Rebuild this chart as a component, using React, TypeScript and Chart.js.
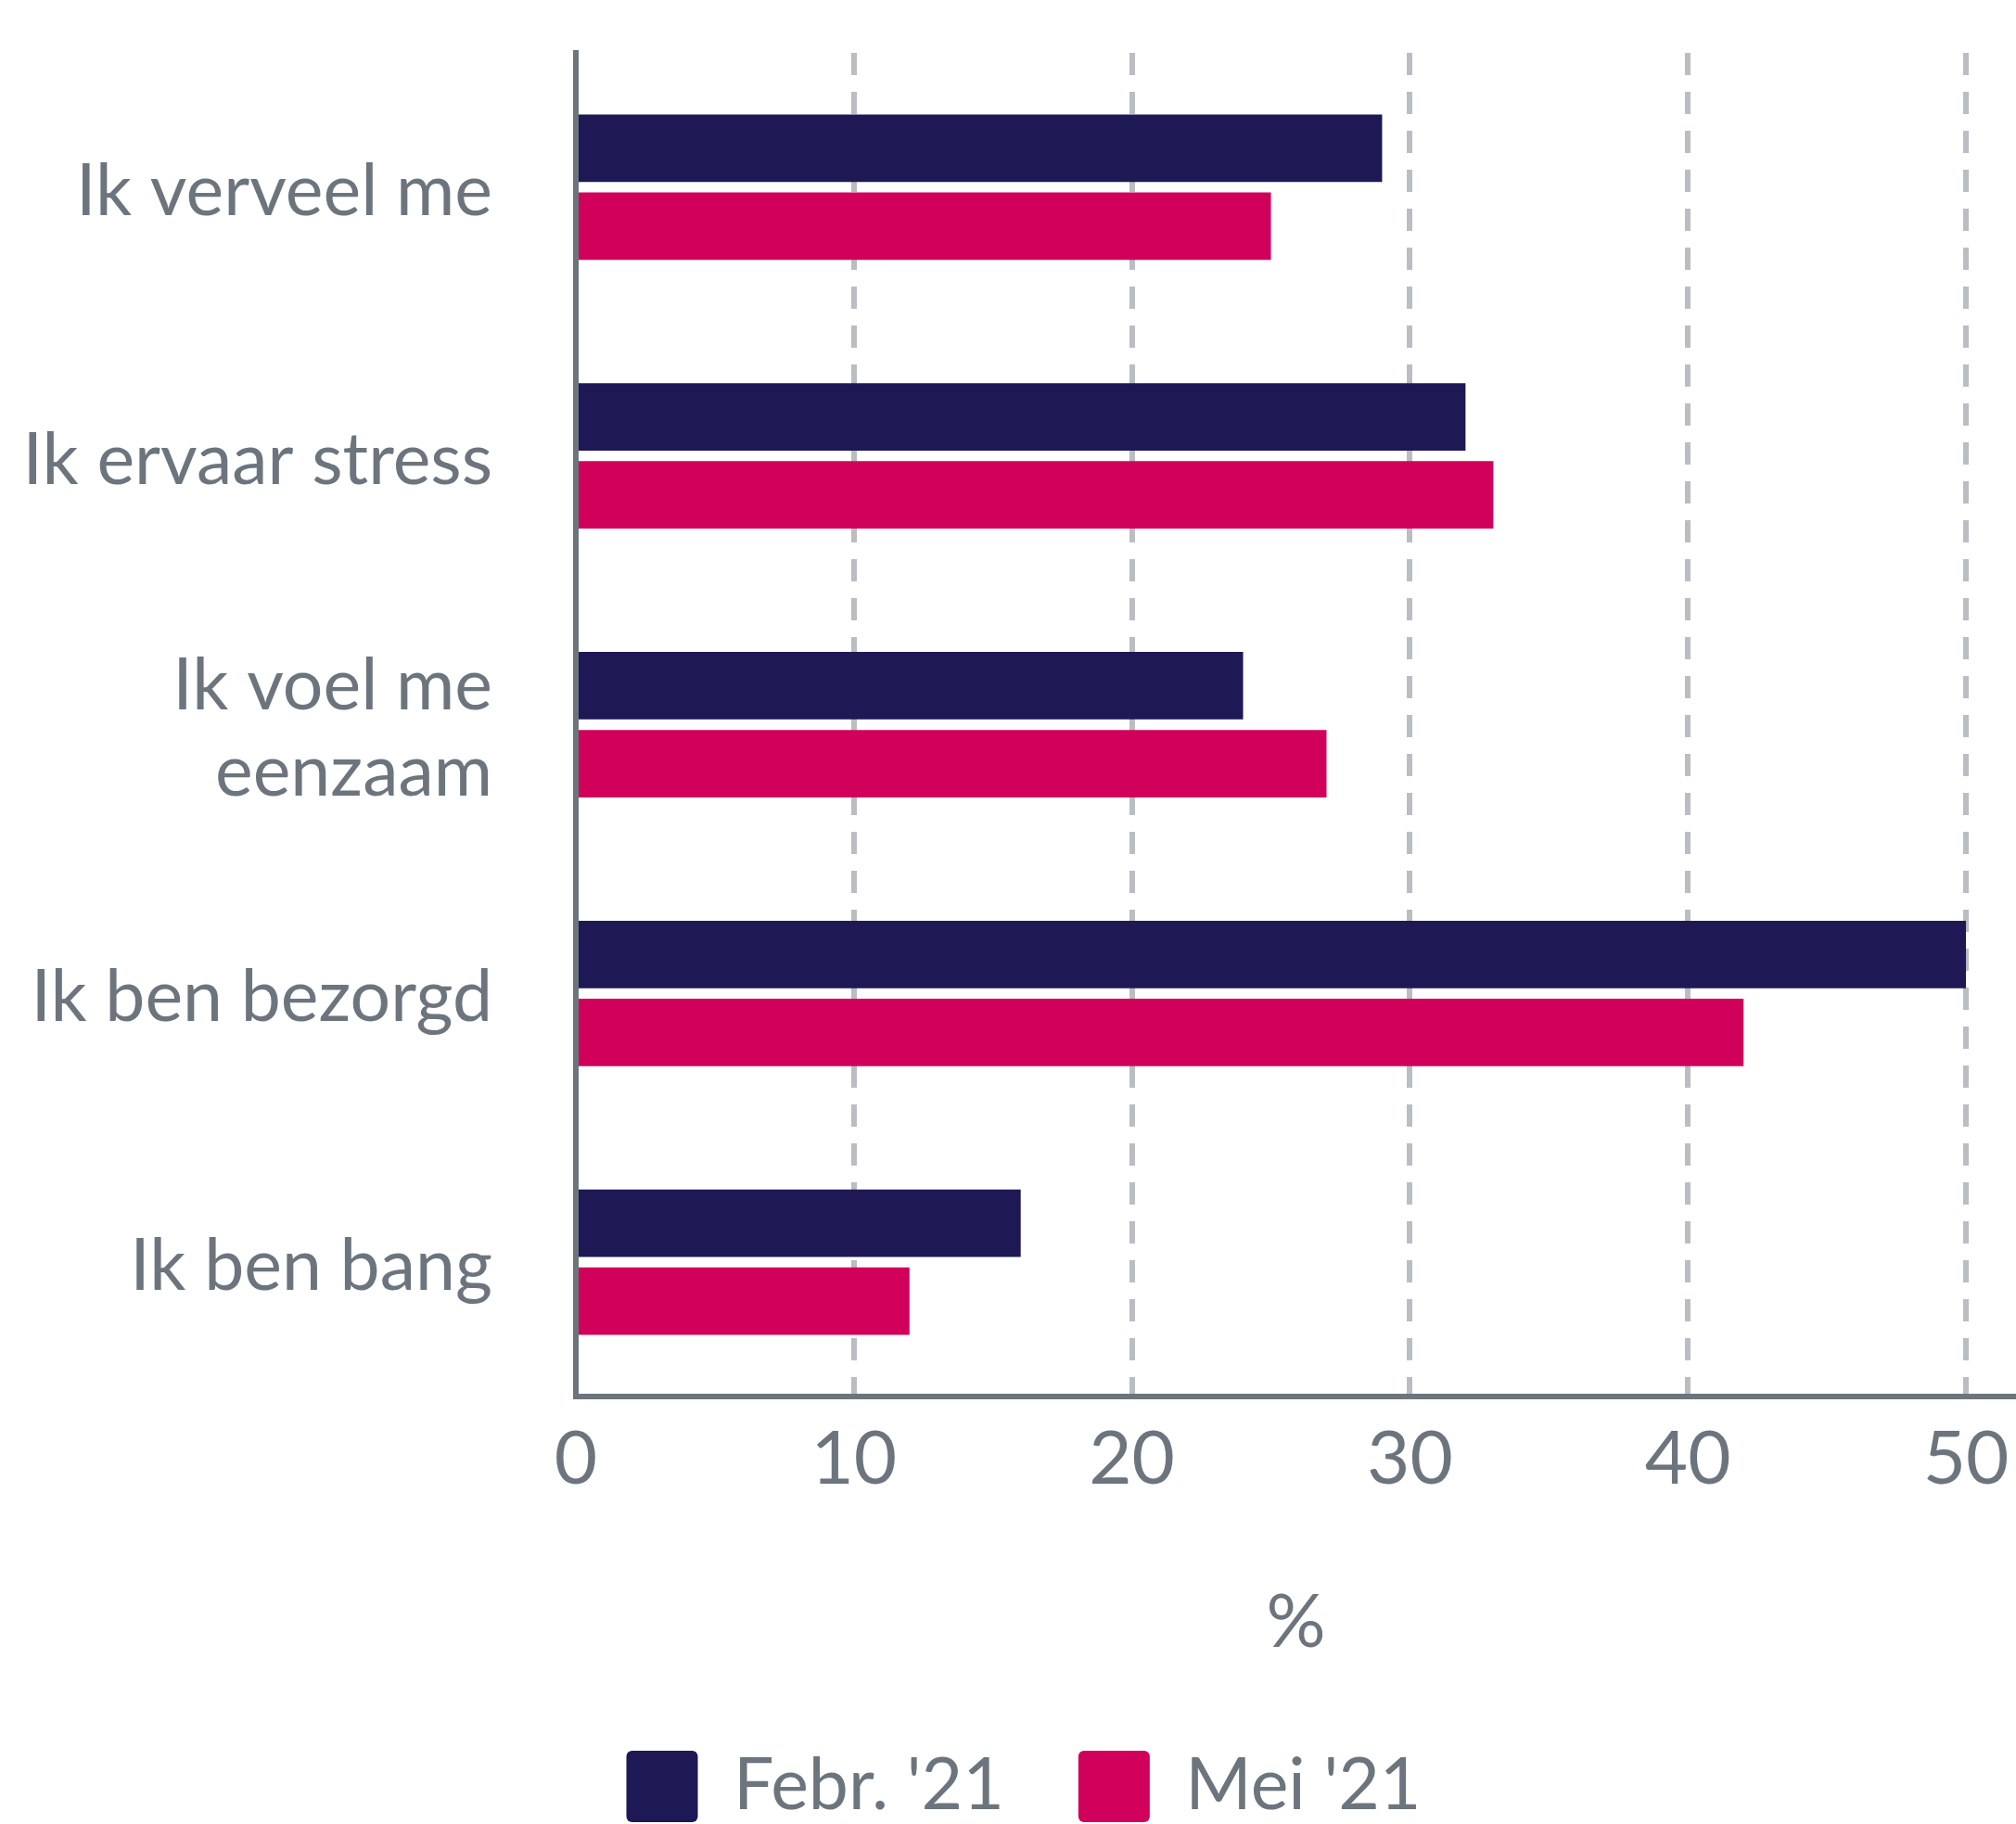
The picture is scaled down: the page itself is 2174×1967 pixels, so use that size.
import React, { useEffect, useRef } from 'react';
import { Chart, registerables } from 'chart.js';

Chart.register(...registerables);

const categories: (string | string[])[] = [
  'Ik verveel me',
  'Ik ervaar stress',
  ['Ik voel me', 'eenzaam'],
  'Ik ben bezorgd',
  'Ik ben bang',
];
const febrValues = [29, 32, 24, 50, 16];
const meiValues = [25, 33, 27, 42, 12];
const seriesNames = ["Febr. '21", "Mei '21"];
const axisTitle = '%';

const NAVY = '#1e1954';
const MAGENTA = '#d1005a';
const TEXT = '#6c757d';
const GRID = '#babdc1';
const FONT = 'Lato, "Noto Sans", sans-serif';

const shiftLegend = {
  id: 'shiftLegend',
  afterLayout(chart: any) {
    if (chart.legend) chart.legend.left += 34;
  },
};

export default function App() {
  const ref = useRef<HTMLCanvasElement | null>(null);

  useEffect(() => {
    let chart: Chart | null = null;
    let cancelled = false;
    const make = () => {
      if (cancelled || !ref.current) return;
      chart = new Chart(ref.current, {
        type: 'bar',
        data: {
          labels: categories as any,
          datasets: [
            {
              label: seriesNames[0],
              data: febrValues,
              backgroundColor: NAVY,
              borderWidth: 0,
              categoryPercentage: 0.58,
              barPercentage: 0.866,
            },
            {
              label: seriesNames[1],
              data: meiValues,
              backgroundColor: MAGENTA,
              borderWidth: 0,
              categoryPercentage: 0.58,
              barPercentage: 0.866,
            },
          ],
        },
        options: {
          indexAxis: 'y',
          responsive: false,
          animation: false,
          layout: { padding: { top: 57, left: 0, right: 0, bottom: 0 } },
          scales: {
            x: {
              type: 'linear',
              min: 0,
              max: 51.8,
              grid: { color: GRID, lineWidth: 6, drawTicks: false, tickLength: 0 },
              border: { display: true, color: TEXT, width: 6, dash: [24, 18] },
              ticks: {
                stepSize: 10,
                includeBounds: false,
                padding: 0,
                maxRotation: 0,
                color: TEXT,
                font: { family: FONT, size: 80, lineHeight: 1.7 },
              },
              title: {
                display: true,
                text: axisTitle,
                color: TEXT,
                font: { family: FONT, size: 80, lineHeight: 1.2 },
                padding: { top: 60, bottom: 10 },
              },
            },
            y: {
              type: 'category',
              afterFit: (s: any) => {
                s.width = 621;
                s.paddingTop = 0;
                s.paddingBottom = 0;
              },
              grid: { display: false, drawTicks: false, tickLength: 0 },
              border: { display: true, color: TEXT, width: 6 },
              ticks: {
                autoSkip: false,
                padding: 90,
                labelOffset: 5,
                color: TEXT,
                font: { family: FONT, size: 77, lineHeight: 1.2 },
              },
            },
          },
          plugins: {
            tooltip: { enabled: false },
            legend: {
              position: 'bottom',
              labels: {
                boxWidth: 77,
                boxHeight: 77,
                padding: 80,
                color: TEXT,
                useBorderRadius: true,
                borderRadius: 6,
                font: { family: FONT, size: 77 },
              },
            },
          },
        },
        plugins: [shiftLegend],
      } as any);
    };
    const fonts: any = (document as any).fonts;
    if (fonts && fonts.load) {
      fonts.load('80px Lato').then(make, make);
    } else {
      make();
    }
    return () => {
      cancelled = true;
      if (chart) chart.destroy();
    };
  }, []);

  return (
    <div
      style={{
        position: 'absolute',
        left: 0,
        top: 0,
        width: 2174,
        height: 1967,
        overflow: 'hidden',
        background: '#fff',
      }}
    >
      <canvas ref={ref} width={2174} height={1975} style={{ display: 'block', width: 2174, height: 1975 }} />
    </div>
  );
}
